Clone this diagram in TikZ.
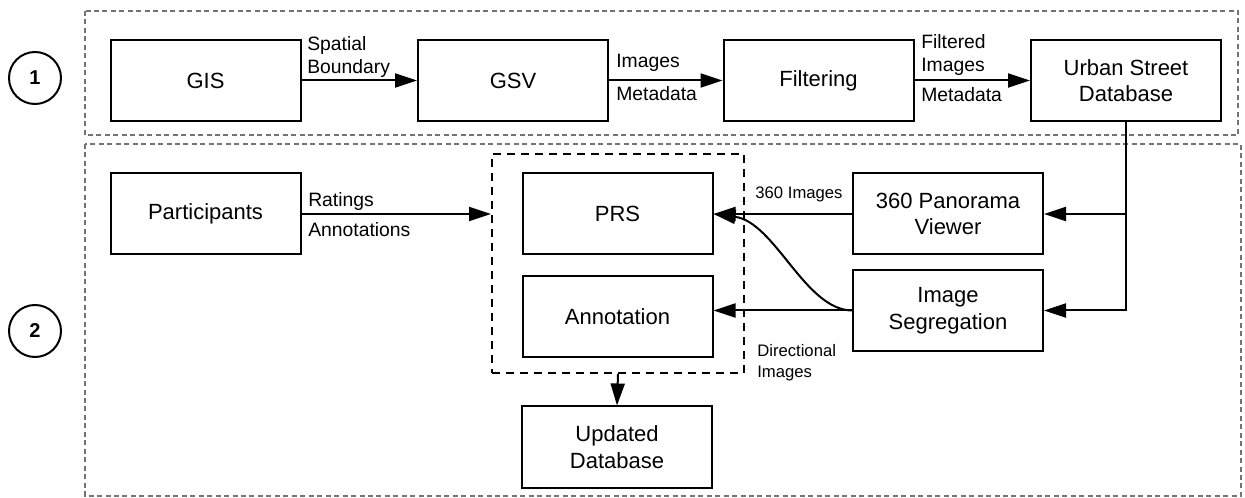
\documentclass[tikz,border=0pt]{standalone}
\usepackage{fontspec}
\setmainfont{Liberation Sans}
\usetikzlibrary{arrows.meta}
\begin{document}
\begin{tikzpicture}[x=0.75pt,y=-0.75pt,
  procbox/.style={draw,line width=1.5pt,minimum width=142.5pt,minimum height=60.75pt,
    align=center,inner sep=2pt,font=\fontsize{16.5}{20}\selectfont},
  flow/.style={line width=1.5pt,-{Triangle[length=16.5pt,width=10.5pt]}},
  edgelabel/.style={font=\fontsize{14.5}{17.5}\selectfont,inner sep=0pt,align=left,anchor=west},
  smalllabel/.style={font=\fontsize{12.5}{15.75}\selectfont,inner sep=0pt,align=left},
  stage/.style={draw,circle,line width=1.5pt,minimum size=39pt,inner sep=0pt,
    font=\fontsize{15}{18}\selectfont\bfseries},
  phase/.style={draw=black!55,line width=1.1pt,dash pattern=on 3.75pt off 2.6pt},
  group/.style={draw,line width=1.5pt,dash pattern=on 6pt off 4.5pt,
    minimum width=189pt,minimum height=164.25pt,inner sep=0pt}
]
\useasboundingbox (0,0) rectangle (1245,498);

% phase frames and stage markers
\draw[phase] (85,11) rectangle (1238,135);
\draw[phase] (85,144) rectangle (1241,496);
\node[stage] (s1) at (35,78) {1};
\node[stage] (s2) at (35,331) {2};

% phase 1: data collection
\node[procbox] (gis) at (205.5,80.5) {GIS};
\node[procbox] (gsv) at (513,80.5) {GSV};
\node[procbox] (filt) at (818.5,80.5) {Filtering};
\node[procbox] (usd) at (1126,80.5) {Urban Street\\Database};

\draw[flow] (gis) -- (gsv);
\draw[flow] (gsv) -- (filt);
\draw[flow] (filt) -- (usd);

\node[edgelabel] (l1) at (307,57) {Spatial\\Boundary};
\node[edgelabel] (l2) at (616,63) {Images};
\node[edgelabel] (l3) at (616,94) {Metadata};
\node[edgelabel] (l4) at (921,55) {Filtered\\Images};
\node[edgelabel] (l5) at (921,95) {Metadata};

% phase 2: rating and annotation
\node[procbox] (part) at (205.5,214) {Participants};
\node[group] (grp) at (618,263.5) {};
\node[procbox] (prs) at (617.5,214) {PRS};
\node[procbox] (ann) at (617.5,316.5) {Annotation};
\node[procbox] (pano) at (948,214) {360 Panorama\\Viewer};
\node[procbox] (seg) at (948,310.5) {Image\\Segregation};
\node[procbox] (upd) at (617,447) {Updated\\Database};

\coordinate (split) at (usd.south |- pano.east);
\draw[line width=1.5pt] (usd.south) -- (split);
\draw[flow] (split) -- (pano.east);
\draw[flow] (split) |- (seg.east);

\draw[flow] (part.east) -- (part.east -| grp.west);
\draw[flow] (pano.west) -- (prs.east);
\draw[flow] (seg.west) -- (seg.west -| ann.east);
\draw[flow] (seg.west) .. controls (805,310) and (775,222) .. (prs.east);
\draw[flow] (grp.south) -- (upd.north);

\node[edgelabel] (l6) at (308,202) {Ratings};
\node[edgelabel] (l7) at (308,230) {Annotations};
\node[smalllabel] (l8) at (799,194) {360 Images};
\node[smalllabel,anchor=west] (l9) at (757,362.5) {Directional\\Images};
\end{tikzpicture}
\end{document}
